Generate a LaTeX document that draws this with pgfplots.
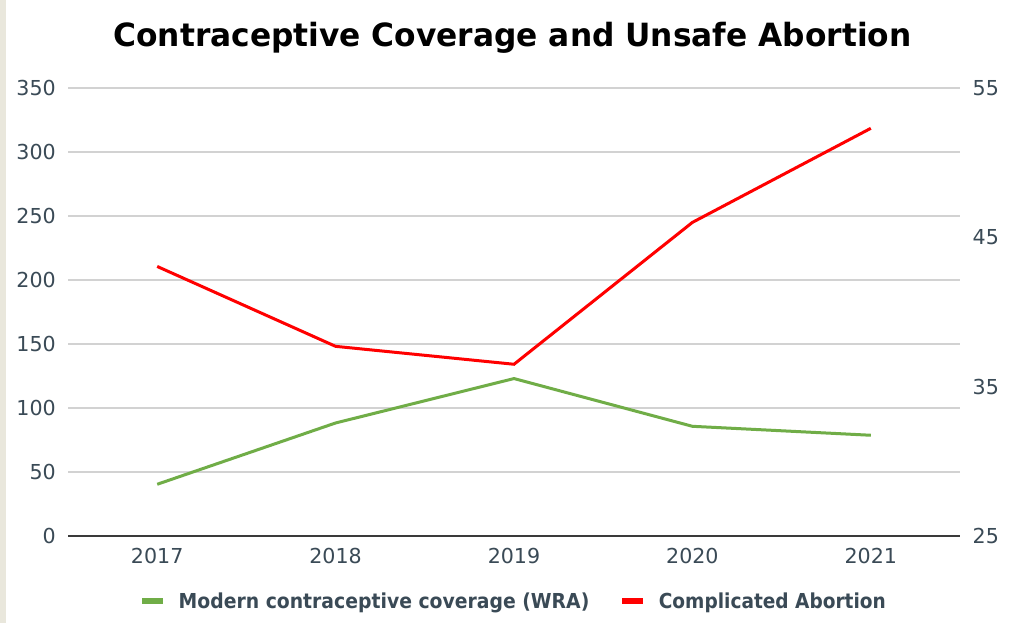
\documentclass[border=0pt]{standalone}
\usepackage{pgfplots}
\pgfplotsset{compat=1.18}
\usepackage{graphicx}
\usepackage{fontspec}
\setmainfont{DejaVu Sans}

\definecolor{txt}{HTML}{3A4A56}
\definecolor{gridc}{HTML}{D2D2D2}
\definecolor{axisc}{HTML}{3A3A3A}
\definecolor{strip}{HTML}{E9E7DC}
\definecolor{lgreen}{HTML}{70AD47}
\definecolor{lred}{HTML}{FF0000}

\newcommand{\tickfont}{\fontsize{20.6}{24}\selectfont}
\newcommand{\legfont}{\fontsize{20.6}{24}\selectfont\bfseries}

\pgfplotsset{
  common/.style={
    at={(68pt,87pt)}, anchor=south west,
    scale only axis, width=892pt, height=448pt,
    xmin=-0.5, xmax=4.5,
    major tick length=0pt,
    tick label style={font=\tickfont, text=txt},
    /pgf/number format/assume math mode=true,
  },
}

\begin{document}
\begin{tikzpicture}
\path[fill=white, use as bounding box] (0,0) rectangle (1012pt,623pt);
\fill[strip] (0,0) rectangle (6pt,623pt);

\node[anchor=base, font=\fontsize{32}{38}\selectfont\bfseries]
  at (512.5pt,576pt) {\scalebox{0.977}[1]{Contraceptive Coverage and Unsafe Abortion}};

% left axis: contraceptive coverage
\begin{axis}[common,
    ymin=0, ymax=350,
    ytick={0,50,...,350},
    xtick={0,...,4},
    xticklabels={2017,2018,2019,2020,2021},
    axis x line*=bottom, axis y line*=left,
    x axis line style={draw=axisc, line width=1.5pt, -},
    y axis line style={draw=none},
    ymajorgrids, grid style={gridc, line width=1.3pt},
    yticklabel style={inner sep=0pt, xshift=-12pt},
    xticklabel style={inner sep=0pt, yshift=-12pt},
  ]
  \addplot[lgreen, line width=3pt] coordinates {
    (0,40.4) (1,88.3) (2,123) (3,85.7) (4,78.7)
  };
\end{axis}

% right axis: complicated abortion
\begin{axis}[common,
    ymin=25, ymax=55,
    ytick={25,35,45,55},
    axis x line=none, axis y line*=right,
    y axis line style={draw=none},
    yticklabel style={inner sep=0pt, xshift=12.5pt},
    legend style={
      at={(0.0796,-0.144)}, anchor=west,
      draw=none, fill=none, inner sep=0pt,
      font=\legfont, text=txt,
      legend columns=2,
      /tikz/every even column/.append style={column sep=30pt},
      nodes={inner sep=0pt, text height=15pt, text depth=0pt},
    },
    legend image code/.code={
      \draw[#1, line width=6pt] (0pt,0pt) -- (21pt,0pt);
      \path[draw=none] (0pt,0pt) -- (36.5pt,0pt);
    },
  ]
  \addlegendimage{lgreen, line width=3pt}
  \addlegendentry{\scalebox{0.913}[1]{Modern contraceptive coverage (WRA)}}
  \addplot[lred, line width=3pt] coordinates {
    (0,43.05) (1,37.7) (2,36.5) (3,46.0) (4,52.3)
  };
  \addlegendentry{\scalebox{0.9}[1]{Complicated Abortion}}
\end{axis}
\end{tikzpicture}
\end{document}
